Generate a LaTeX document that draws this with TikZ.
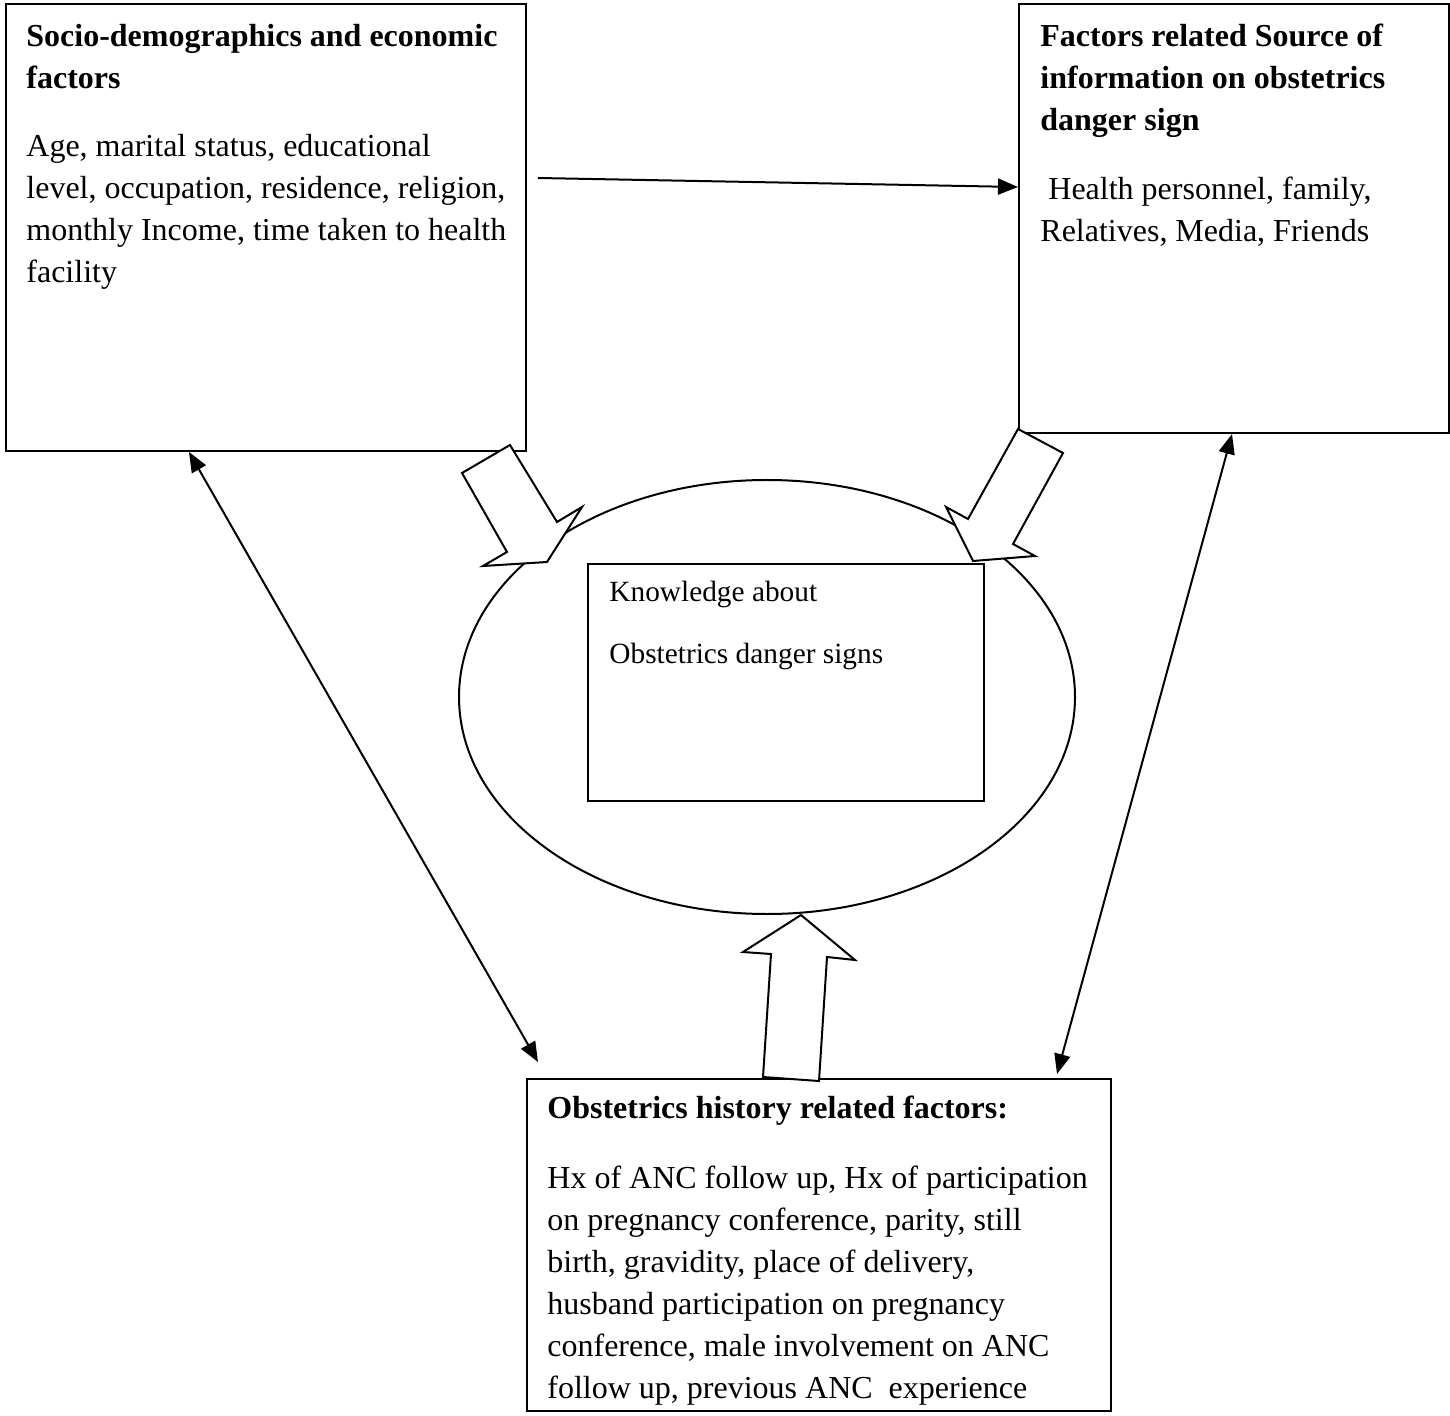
\documentclass[tikz,border=0pt]{standalone}
\usepackage{fontspec}
\setmainfont{Liberation Serif}
\usetikzlibrary{arrows.meta,shapes.geometric,positioning,calc}
\tikzset{
  box/.style={draw, line width=1pt, rectangle, inner sep=0pt, anchor=north west},
  txt/.style={anchor=base west, align=left, inner sep=0pt, font=\fontsize{16}{21}\selectfont},
  link/.style={line width=1pt, -{Triangle[length=10pt,width=8pt]}},
  twoway/.style={line width=1pt, {Triangle[length=10pt,width=8pt]}-{Triangle[length=10pt,width=8pt]}},
  bigarrow/.style={draw, fill=white, line width=1pt, line join=miter}
}

\begin{document}
\begin{tikzpicture}[x=0.5pt, y=-0.5pt]
\useasboundingbox (0,0) rectangle (1450,1416);

% the three factor boxes
\node[box, minimum width=260pt, minimum height=223.5pt] (socio) at (5,3) {};
\node[box, minimum width=215pt, minimum height=214.5pt] (info) at (1018,3) {};
\node[box, minimum width=292pt, minimum height=166pt] (hist) at (526,1078) {};

% knowledge in the middle
\node[draw, ellipse, line width=1pt, minimum width=308pt, minimum height=217pt, inner sep=0pt] (know) at (767,697) {};
\node[box, minimum width=198pt, minimum height=118.5pt] (kbox) at (587,563) {};

% texts (placed at the baseline of their last line)
\node[txt] (sociot) at (26,89) {\textbf{Socio-demographics and economic}\\\textbf{factors}};
\node[txt] (socioc) at (26,283) {Age, marital status, educational\\level, occupation, residence, religion,\\monthly Income, time taken to health\\facility};
\node[txt] (infot) at (1040,131) {\textbf{Factors related Source of}\\\textbf{information on obstetrics}\\\textbf{danger sign}};
\node[txt] (infoc) at (1040,242) {\hspace*{4pt}Health personnel, family,\\Relatives, Media, Friends};
\node[txt, font=\fontsize{14.67}{31.5}\selectfont] (knowt) at (609,664) {Knowledge about\\Obstetrics danger signs};
\node[txt] (histt) at (547,1118) {\textbf{Obstetrics history related factors:}};
\node[txt] (histc) at (547,1398) {Hx of ANC follow up, Hx of participation\\on pregnancy conference, parity, still\\birth, gravidity, place of delivery,\\husband participation on pregnancy\\conference, male involvement on ANC\\follow up, previous ANC\ \ experience};

% block arrows into the ellipse
\draw[bigarrow] (510,445) -- (557,522) -- (582,507) -- (547,562) -- (483,566) -- (507,552) -- (462,473) -- cycle;
\draw[bigarrow] (1018,429) -- (1063,453) -- (1013,544) -- (1035,556) -- (973,561) -- (946,507) -- (968,519) -- cycle;
\draw[bigarrow] (801,915) -- (855,960) -- (827,957) -- (819,1081) -- (763,1077) -- (771,954) -- (743,952) -- cycle;

% line arrows
\coordinate (h0) at (538,178);
\coordinate (cA) at (538,1062);
\draw[link] (h0) -- ([yshift=-92pt]info.north west);
\draw[twoway] ([xshift=92pt]socio.south west) -- (cA);
\draw[twoway] ([xshift=107pt]info.south west) -- ([xshift=265.5pt,yshift=2pt]hist.north west);
\end{tikzpicture}
\end{document}
